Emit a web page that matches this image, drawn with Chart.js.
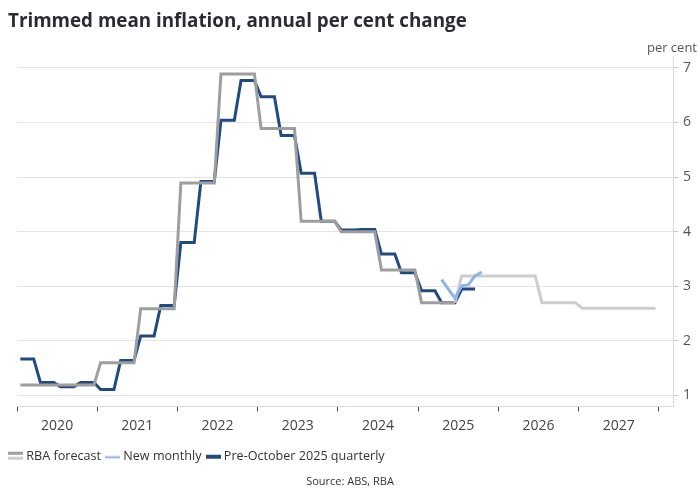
<!DOCTYPE html>
<html><head><meta charset="utf-8">
<script src="https://cdn.jsdelivr.net/npm/chart.js@4.4.1/dist/chart.umd.min.js"></script>
<style>
html,body{margin:0;padding:0;background:#fff;}
#wrap{position:relative;width:700px;height:500px;font-family:"Open Sans",sans-serif;}
#title{position:absolute;left:8px;top:11px;font-size:18.8px;line-height:19px;font-weight:700;color:#2b2b36;white-space:nowrap;}
#unit{position:absolute;right:3px;top:38px;font-size:13px;line-height:18px;color:#555;}
#source{position:absolute;left:0;width:700px;text-align:center;top:473px;font-size:11px;line-height:16px;color:#333;}
canvas{position:absolute;left:0;top:0;}
</style></head>
<body><div id="wrap">
<canvas id="c" width="700" height="500"></canvas>
<div id="title">Trimmed mean inflation, annual per cent change</div>
<div id="unit">per cent</div>
<div id="source">Source: ABS, RBA</div>
</div>
<script>
// x values are months since January 2020 (point at month centre)
const yearLabels = ['2020','2021','2022','2023','2024','2025','2026','2027'];
const yearBoundaryTicks = [0,12,24,36,48,60,72,84,96];
const yearLabelTicks = [6,18,30,42,54,66,78,90];
const yTicks = [1,2,3,4,5,6,7];

// RBA forecast, monthly steps from Jan 2020
const rbaStart = 0;
const rbaForecast = [
  1.19,1.19,1.19,1.19,1.19,1.19,1.19,1.19,1.19,1.19,1.19,1.19,
  1.60,1.60,1.60,1.60,1.60,1.60,
  2.59,2.59,2.59,2.59,2.59,2.59,
  4.89,4.89,4.89,4.89,4.89,4.89,
  6.89,6.89,6.89,6.89,6.89,6.89,
  5.89,5.89,5.89,5.89,5.89,5.89,
  4.19,4.19,4.19,4.19,4.19,4.19,
  4.00,4.00,4.00,4.00,4.00,4.00,
  3.30,3.30,3.30,3.30,3.30,3.30,
  2.70,2.70,2.70,2.70,2.70,2.70,
  3.19,3.19,3.19,3.19,3.19,3.19,3.19,3.19,3.19,3.19,3.19,3.19,
  2.70,2.70,2.70,2.70,2.70,2.70,
  2.60,2.60,2.60,2.60,2.60,2.60,2.60,2.60,2.60,2.60,2.60,2.60
];
const rbaForecastFrom = 65; // index where the forecast (lighter) part begins

// New monthly measure, from Apr 2025
const newMonthlyStart = 63;
const newMonthly = [3.12,2.95,2.78,3.01,3.03,3.19,3.26];

// Pre-October 2025 quarterly, monthly steps from Jan 2020
const preOctStart = 0;
const preOctQuarterly = [
  1.67,1.67,1.67, 1.24,1.24,1.24, 1.16,1.16,1.16, 1.24,1.24,1.24,
  1.11,1.11,1.11, 1.64,1.64,1.64, 2.09,2.09,2.09, 2.65,2.65,2.65,
  3.80,3.80,3.80, 4.92,4.92,4.92, 6.04,6.04,6.04, 6.77,6.77,6.77,
  6.47,6.47,6.47, 5.76,5.76,5.76, 5.07,5.07,5.07, 4.19,4.19,4.19,
  4.03,4.03,4.03, 4.04,4.04,4.04, 3.59,3.59,3.59, 3.25,3.25,3.25,
  2.92,2.92,2.92, 2.70,2.70,2.70, 2.95,2.95,2.95
];

const C_GREY = '#9e9e9e', C_GREY_LIGHT = '#cdcdcd', C_LBLUE = '#8db4e2', C_DBLUE = '#1f4b82';

function toPoints(start, arr){ return arr.map((v,i)=>({x:start+i+0.5, y:v})); }

function swatch(drawFn){
  const c = document.createElement('canvas'); c.width = 15; c.height = 12;
  const g = c.getContext('2d'); drawFn(g); return c;
}
const swRBA = swatch(g=>{ g.fillStyle=C_GREY; g.fillRect(0,1,15,3); g.fillStyle=C_GREY_LIGHT; g.fillRect(0,6,15,3); });
const swNew = swatch(g=>{ g.fillStyle=C_LBLUE; g.fillRect(0,5.5,15,2); });
const swPre = swatch(g=>{ g.fillStyle=C_DBLUE; g.fillRect(0,4,15,4); });

new Chart(document.getElementById('c'), {
  type: 'line',
  data: {
    datasets: [
      { label:'RBA forecast', data: toPoints(rbaStart, rbaForecast), borderColor:C_GREY, borderWidth:3,
        segment:{ borderColor: ctx => ctx.p0DataIndex >= rbaForecastFrom ? C_GREY_LIGHT : C_GREY },
        pointRadius:0, pointStyle:swRBA, order:1, xAxisID:'x', yAxisID:'y' },
      { label:'New monthly', data: toPoints(newMonthlyStart, newMonthly), borderColor:C_LBLUE, borderWidth:3,
        pointRadius:0, pointStyle:swNew, order:0, xAxisID:'x', yAxisID:'y' },
      { label:'Pre-October 2025 quarterly', data: toPoints(preOctStart, preOctQuarterly), borderColor:C_DBLUE, borderWidth:3,
        pointRadius:0, pointStyle:swPre, order:2, xAxisID:'x', yAxisID:'y' }
    ]
  },
  options: {
    responsive:false, animation:false,
    layout:{ padding:{ left:4, right:0, top:57, bottom:27 } },
    elements:{ line:{ tension:0, borderCapStyle:'butt' } },
    plugins:{
      tooltip:{ enabled:false },
      legend:{ position:'bottom', align:'start',
        labels:{ usePointStyle:true, boxWidth:9, boxHeight:9, padding:7, color:'#333',
          font:{ family:'Open Sans', size:12.6 }, sort:(a,b)=>a.datasetIndex-b.datasetIndex } }
    },
    scales:{
      pad:{ type:'linear', position:'left', display:true, grid:{display:false}, border:{display:false},
        ticks:{display:false}, afterFit:s=>{ s.width = 13; } },
      x:{ type:'linear', position:'bottom', min:0, max:98.1,
        afterBuildTicks:s=>{ s.ticks = yearBoundaryTicks.concat(yearLabelTicks).sort((a,b)=>a-b).map(v=>({value:v})); },
        afterFit:s=>{ s.height = 37; },
        grid:{ drawOnChartArea:false, drawTicks:true, tickLength:5, tickWidth:1,
          tickColor: ctx => (ctx.tick && yearBoundaryTicks.includes(ctx.tick.value)) ? '#444' : 'rgba(0,0,0,0)' },
        border:{ display:true, color:'#d9d9d9', width:1 },
        ticks:{ autoSkip:false, maxRotation:0, padding:6, color:'#444', font:{family:'Open Sans', size:14},
          callback:(v)=>{ const i = yearLabelTicks.indexOf(v); return i>=0 ? yearLabels[i] : ''; } } },
      y:{ type:'linear', position:'right', min:0.8, max:7.2,
        afterBuildTicks:s=>{ s.ticks = yTicks.map(v=>({value:v})); },
        afterFit:s=>{ s.width = 27; },
        grid:{ color:'#e4e4e4', lineWidth:1, drawTicks:true, tickLength:5, tickColor:'#c8c8c8' },
        border:{ display:true, color:'#d9d9d9', width:1 },
        ticks:{ padding:5, color:'#555', font:{family:'Open Sans', size:14} } }
    }
  }
});
</script>
</body></html>
